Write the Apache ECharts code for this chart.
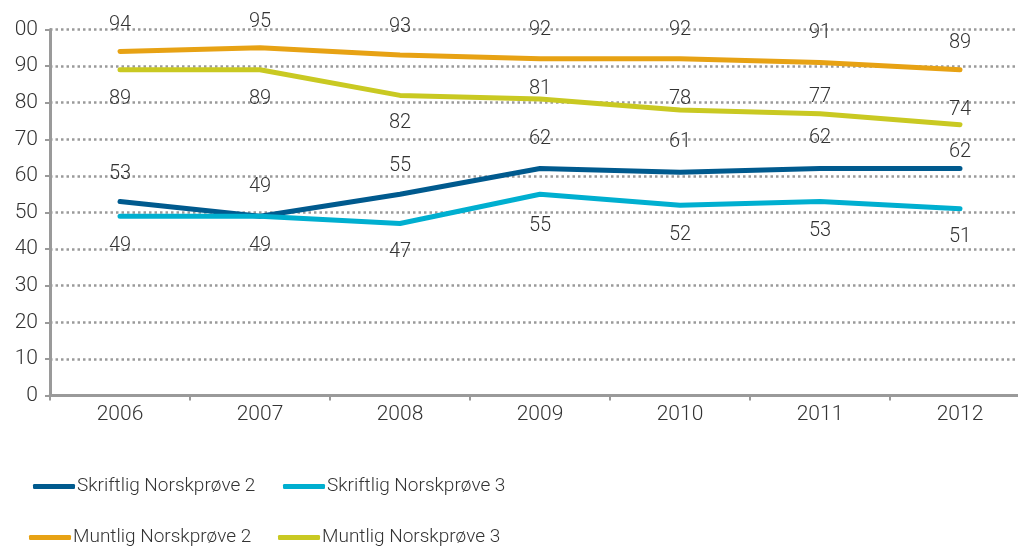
<!DOCTYPE html>
<html>
<head>
<meta charset="utf-8">
<script src="https://cdn.jsdelivr.net/npm/echarts@6/dist/echarts.min.js"></script>
<style>
  html, body { margin: 0; padding: 0; background: #fff; }
  #chart { width: 1018px; height: 547px; }
</style>
</head>
<body>
<div id="chart"></div>
<script>
  // data
  const years = ['2006', '2007', '2008', '2009', '2010', '2011', '2012'];
  const skriftlig2 = [53, 49, 55, 62, 61, 62, 62];
  const skriftlig3 = [49, 49, 47, 55, 52, 53, 51];
  const muntlig2 = [94, 95, 93, 92, 92, 91, 89];
  const muntlig3 = [89, 89, 82, 81, 78, 77, 74];
  const names = ['Skriftlig Norskprøve 2', 'Skriftlig Norskprøve 3', 'Muntlig Norskprøve 2', 'Muntlig Norskprøve 3'];

  // where the value labels sit, relative to the point (px)
  const skriftlig2Dy = [-28, -29, -28, -30, -30, -31, -17];
  const skriftlig3Dy = [30, 30, 29, 32, 30, 29, 28];
  const muntlig2Dy = [-26, -26, -28, -29, -29, -29, -27];
  const muntlig3Dy = [29, 29, 28, -10, -11, -17, -15];

  const numFont = 'Roboto';

  function withLabels(values, dys) {
    return values.map(function (v, i) {
      return { value: v, label: { offset: [0, dys[i]] } };
    });
  }

  function lineSeries(name, values, dys, color) {
    return {
      name: name,
      type: 'line',
      data: withLabels(values, dys),
      symbol: 'circle',
      symbolSize: 0.1,
      showSymbol: true,
      lineStyle: { width: 5, color: color, cap: 'round' },
      itemStyle: { color: color },
      label: {
        show: true,
        position: 'inside',
        color: '#333',
        fontFamily: numFont,
        fontWeight: 300,
        fontSize: 20
      },
      z: 3
    };
  }

  function legendAt(name, left, top) {
    return {
      data: [name],
      left: left,
      top: top,
      icon: 'roundRect',
      itemWidth: 42,
      itemHeight: 5,
      padding: 0,
      textStyle: { color: '#333', fontFamily: numFont, fontWeight: 300, fontSize: 19, padding: [0, 0, 0, -3] }
    };
  }

  const chart = echarts.init(document.getElementById('chart'));
  chart.setOption({
    animation: false,
    grid: { left: 50, width: 980, top: 29.5, bottom: 151.5, outerBoundsMode: 'none', containLabel: false },
    legend: [
      legendAt(names[0], 33, 477),
      legendAt(names[1], 283, 477),
      legendAt(names[2], 29, 528),
      legendAt(names[3], 278, 528)
    ],
    xAxis: {
      type: 'category',
      data: years,
      boundaryGap: true,
      axisLine: { lineStyle: { color: '#9a9a9a', width: 3 } },
      axisTick: { show: true, length: 5, lineStyle: { color: '#9a9a9a', width: 2 } },
      axisLabel: { color: '#333', fontFamily: numFont, fontWeight: 300, fontSize: 21, margin: 9 }
    },
    yAxis: {
      type: 'value',
      min: 0,
      max: 100,
      interval: 10,
      axisLine: { show: true, lineStyle: { color: '#9a9a9a', width: 3 } },
      axisTick: { show: true, length: 5, lineStyle: { color: '#9a9a9a', width: 2 } },
      axisLabel: {
        color: '#333',
        fontFamily: numFont,
        fontWeight: 300,
        fontSize: 21,
        margin: 12,
        formatter: function (v) { return v === 100 ? '00' : String(v); }
      },
      splitLine: { show: true, lineStyle: { color: '#9a9a9a', width: 2.5, type: [2.5, 3] } }
    },
    series: [
      lineSeries(names[0], skriftlig2, skriftlig2Dy, '#005a8e'),
      lineSeries(names[1], skriftlig3, skriftlig3Dy, '#00afd0'),
      lineSeries(names[2], muntlig2, muntlig2Dy, '#e7a214'),
      lineSeries(names[3], muntlig3, muntlig3Dy, '#c9c922')
    ]
  });
</script>
</body>
</html>
